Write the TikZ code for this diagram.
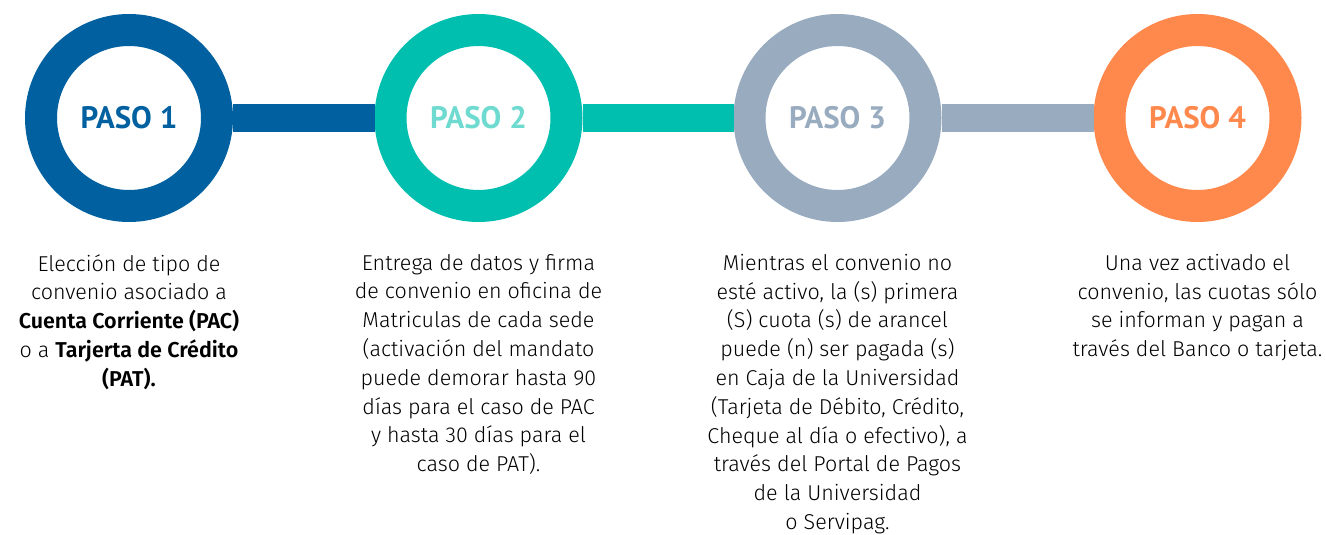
\documentclass[tikz,border=0pt]{standalone}
\usepackage{fontspec}
\setmainfont{Fira Sans Light}[BoldFont=Fira Sans SemiBold]
\newfontfamily\pasofont{PT Sans}
\usetikzlibrary{positioning}
\definecolor{pasoazul}{RGB}{0,96,160}
\definecolor{pasoturquesa}{RGB}{0,191,175}
\definecolor{pasoturquesaclaro}{RGB}{110,218,208}
\definecolor{pasogris}{RGB}{152,171,191}
\definecolor{pasonaranja}{RGB}{255,136,77}

\tikzset{
  anillo/.style={circle, draw=#1, line width=32pt, minimum size=176pt, inner sep=0pt,
    font=\pasofont\fontsize{31}{31}\selectfont\bfseries},
  barra/.style={draw=#1, line width=28pt},
  texto/.style={align=center, inner sep=0pt, font=\fontsize{21.5}{28.8}\selectfont}
}

\begin{document}
\begin{tikzpicture}[x=1pt, y=1pt]
\useasboundingbox (0,0) rectangle (1326,-535);

% Anillos
\node[anillo=pasoazul, text=pasoazul] (paso1) at (129,-118) {PASO 1};
\node[anillo=pasoturquesa, text=pasoturquesaclaro] (paso2) at (478.5,-118) {PASO 2};
\node[anillo=pasogris, text=pasogris] (paso3) at (837.5,-118) {PASO 3};
\node[anillo=pasonaranja, text=pasonaranja] (paso4) at (1197.5,-118) {PASO 4};

% Barras entre los pasos
\draw[barra=pasoazul] (paso1) -- (paso2);
\draw[barra=pasoturquesa] (paso2) -- (paso3);
\draw[barra=pasogris] (paso3) -- (paso4);

% Textos
\node[texto, below=32pt of paso1] (texto1) {Elección de tipo de\\ convenio asociado a\\
  \textbf{Cuenta Corriente (PAC)}\\ o a \textbf{Tarjerta de Crédito}\\ \textbf{(PAT).}};
\node[texto, below=32pt of paso2] (texto2) {Entrega de datos y firma\\ de convenio en oficina de\\
  Matriculas de cada sede\\ (activación del mandato\\ puede demorar hasta 90\\
  días para el caso de PAC\\ y hasta 30 días para el\\ caso de PAT).};
\node[texto, below=32pt of paso3] (texto3) {Mientras el convenio no\\ esté activo, la (s) primera\\
  (S) cuota (s) de arancel\\ puede (n) ser pagada (s)\\ en Caja de la Universidad\\
  (Tarjeta de Débito, Crédito,\\ Cheque al día o efectivo), a\\ través del Portal de Pagos\\
  de la Universidad\\ o Servipag.};
\node[texto, below=32pt of paso4] (texto4) {Una vez activado el\\ convenio, las cuotas sólo\\
  se informan y pagan a\\ través del Banco o tarjeta.};

\end{tikzpicture}
\end{document}
